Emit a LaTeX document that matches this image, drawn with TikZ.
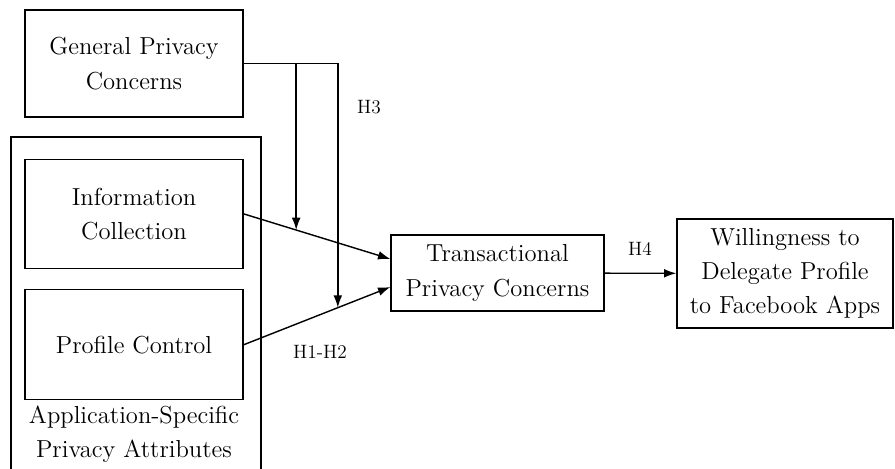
\documentclass[tikz,border=0pt]{standalone}
\usepackage{amsmath,amssymb}
\usepackage{xcolor}
\usepackage{tikz}
\usetikzlibrary{shapes,arrows.meta,positioning,calc}

\begin{document}
\begin{tikzpicture}[
    x=0.02cm, y=0.02cm,
    block/.style={rectangle, draw, line width=0.8pt, align=center, font=\fontsize{14}{19.5}\selectfont, inner sep=2pt},
    arrow/.style={-{Latex[length=7pt,width=5pt]}, line width=0.8pt},
    hyp/.style={font=\fontsize{11}{12}\selectfont}
  ]
    \useasboundingbox (0,0) rectangle (895,468);
    \clip (0,0) rectangle (895,468);

    \node[block, minimum width=4.36cm, minimum height=2.14cm] (gen) at (134,404.5) {General Privacy\\Concerns};
    \node[block, minimum width=4.36cm, minimum height=2.18cm, below=0.82cm of gen] (info) {Information\\Collection};
    \node[block, minimum width=4.36cm, minimum height=2.2cm, below=0.4cm of info] (prof) {Profile Control};
    \node[block, minimum width=4.26cm, minimum height=1.52cm] (trans) at (497.5,195) {Transactional\\Privacy Concerns};
    \node[block, minimum width=4.32cm, minimum height=2.18cm] (will) at (785,194.5) {Willingness to\\Delegate Profile\\to Facebook Apps};

    % outer frame, runs past the bottom edge
    \draw[line width=0.8pt] (11,-20) |- (261,331) -- (261,-20);
    \node[block, draw=none, below=0.02cm of prof] (attr) {Application-Specific\\Privacy Attributes};

    \coordinate (tin1) at ($(trans.west)+(0,14)$);
    \coordinate (tin2) at ($(trans.west)+(0,-14)$);
    \draw[arrow] (info.east) -- (tin1);
    \draw[arrow] (prof.east) -- (tin2);
    \draw[arrow] (trans) -- (will);

    % moderating paths
    \path (info.east) -- (tin1) coordinate[pos=0.358] (mod1);
    \path (prof.east) -- (tin2) coordinate[pos=0.642] (mod2);
    \draw[arrow] (gen.east) -| (mod2);
    \draw[arrow] (mod1 |- gen.east) -- (mod1);

    \node[hyp] (h3) at (369,361) {H3};
    \node[hyp] (h12) at (320,116) {H1-H2};
    \node[hyp] (h4) at (640,219) {H4};
  \end{tikzpicture}
\end{document}
